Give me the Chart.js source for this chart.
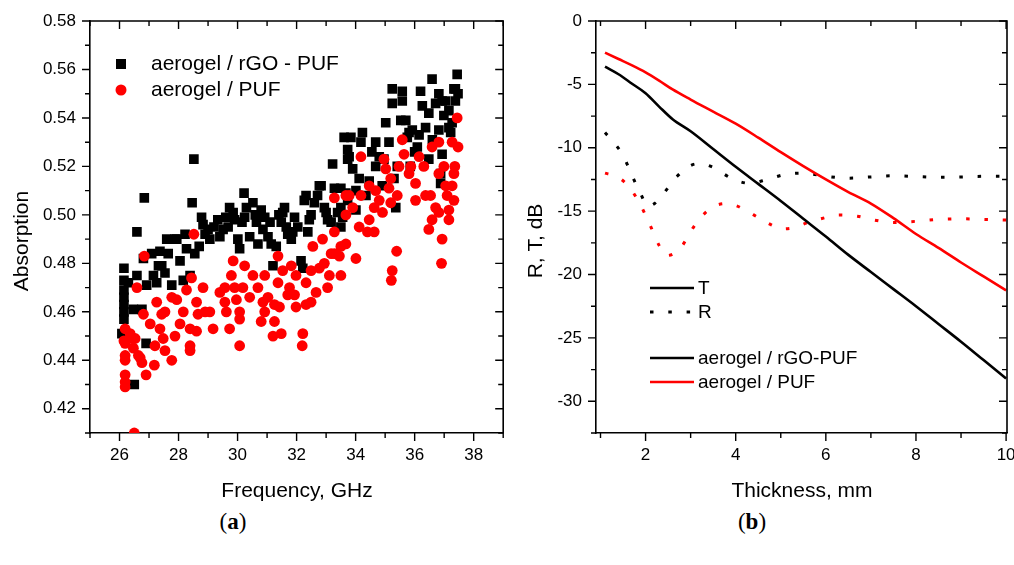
<!DOCTYPE html>
<html>
<head>
<meta charset="utf-8">
<script src="https://cdn.jsdelivr.net/npm/chart.js@4.4.0/dist/chart.umd.min.js"></script>
<style>
  html, body { margin: 0; padding: 0; background: #fff; }
  #wrap { position: relative; width: 1014px; height: 565px; overflow: hidden; }
  canvas { position: absolute; top: 0; }
  #chartA { left: 0; }
  #chartB { left: 510px; }
  .cap { position: absolute; top: 509px; width: 60px; text-align: center; line-height: 26px;
         font-family: "Liberation Serif", "DejaVu Serif", serif; font-size: 23px; color: #000; }
</style>
</head>
<body>
<div id="wrap">
  <canvas id="chartA" width="510" height="505"></canvas>
  <canvas id="chartB" width="504" height="505"></canvas>
  <div class="cap" style="left:203px">(<b>a</b>)</div>
  <div class="cap" style="left:722px">(<b>b</b>)</div>
</div>
<script>
// ---- panel (a): absorption vs frequency ----
const freqRgo = [26.08, 26.15, 26.15, 26.15, 26.15, 26.15, 26.15, 26.15, 26.30, 26.47, 26.50, 26.59, 26.59, 26.76, 26.81,
  26.84, 26.90, 26.92, 27.09, 27.15, 27.26, 27.32, 27.37, 27.43, 27.54, 27.60, 27.65, 27.77, 27.88, 27.94,
  28.05, 28.16, 28.22, 28.27, 28.39, 28.46, 28.52, 28.55, 28.70, 28.78, 28.83, 28.90, 29.00, 29.06, 29.20,
  29.33, 29.40, 29.51, 29.60, 29.68, 29.73, 29.85, 29.90, 30.01, 30.07, 30.15, 30.22, 30.24, 30.30, 30.41,
  30.52, 30.60, 30.64, 30.69, 30.80, 30.86, 30.92, 31.03, 31.10, 31.14, 31.20, 31.31, 31.40, 31.48, 31.53,
  31.59, 31.65, 31.70, 31.82, 31.87, 31.93, 32.04, 32.15, 32.21, 32.26, 32.32, 32.38, 32.43, 32.49, 32.60,
  32.71, 32.77, 32.83, 32.94, 33.00, 33.05, 33.17, 33.22, 33.28, 33.39, 33.50, 33.50, 33.50, 33.56, 33.61,
  33.67, 33.73, 33.73, 33.73, 33.78, 33.84, 33.90, 34.01, 34.01, 34.12, 34.18, 34.23, 34.35, 34.46, 34.55,
  34.68, 34.68, 34.80, 34.90, 34.96, 35.02, 35.13, 35.24, 35.24, 35.30, 35.36, 35.41, 35.53, 35.58, 35.58,
  35.70, 35.75, 35.81, 35.85, 35.92, 36.00, 36.09, 36.15, 36.20, 36.26, 36.37, 36.48, 36.48, 36.59, 36.60,
  36.71, 36.82, 36.82, 36.88, 36.88, 36.93, 36.93, 36.99, 37.05, 37.16, 37.16, 37.22, 37.27, 37.33, 37.38,
  37.38, 37.44, 37.47];
const absRgo = [0.451, 0.478, 0.473, 0.469, 0.466, 0.463, 0.460, 0.457, 0.472, 0.461, 0.430, 0.475, 0.493, 0.461, 0.482,
  0.507, 0.447, 0.471, 0.484, 0.475, 0.472, 0.479, 0.485, 0.479, 0.476, 0.490, 0.484, 0.471, 0.490, 0.490,
  0.481, 0.473, 0.492, 0.486, 0.475, 0.505, 0.523, 0.484, 0.487, 0.499, 0.496, 0.492, 0.494, 0.490, 0.495,
  0.498, 0.491, 0.494, 0.499, 0.495, 0.503, 0.501, 0.498, 0.490, 0.486, 0.497, 0.509, 0.499, 0.503, 0.491,
  0.505, 0.500, 0.497, 0.488, 0.502, 0.494, 0.499, 0.491, 0.497, 0.488, 0.479, 0.487, 0.500, 0.497, 0.501,
  0.503, 0.495, 0.492, 0.490, 0.493, 0.499, 0.495, 0.481, 0.478, 0.506, 0.508, 0.493, 0.498, 0.500, 0.505,
  0.508, 0.512, 0.512, 0.503, 0.501, 0.498, 0.497, 0.521, 0.511, 0.501, 0.511, 0.503, 0.495, 0.499, 0.532,
  0.509, 0.527, 0.523, 0.506, 0.524, 0.532, 0.519, 0.510, 0.502, 0.515, 0.530, 0.534, 0.508, 0.514, 0.526,
  0.530, 0.520, 0.524, 0.512, 0.523, 0.538, 0.530, 0.552, 0.546, 0.515, 0.503, 0.520, 0.539, 0.551, 0.547,
  0.539, 0.532, 0.534, 0.520, 0.535, 0.526, 0.528, 0.533, 0.551, 0.545, 0.536, 0.542, 0.523, 0.556, 0.531,
  0.546, 0.550, 0.535, 0.517, 0.513, 0.547, 0.525, 0.541, 0.547, 0.536, 0.543, 0.534, 0.538, 0.552, 0.552,
  0.547, 0.558, 0.550];
const freqPuf = [26.15, 26.19, 26.19, 26.19, 26.19, 26.19, 26.19, 26.19, 26.36, 26.42, 26.47, 26.50, 26.53, 26.59, 26.64,
  26.70, 26.76, 26.81, 26.84, 26.90, 27.04, 27.18, 27.20, 27.26, 27.37, 27.43, 27.48, 27.54, 27.54, 27.77,
  27.77, 27.88, 27.94, 28.05, 28.16, 28.27, 28.39, 28.39, 28.39, 28.44, 28.52, 28.61, 28.61, 28.66, 28.83,
  28.90, 29.06, 29.17, 29.40, 29.57, 29.57, 29.62, 29.73, 29.79, 29.85, 29.90, 29.96, 30.07, 30.07, 30.07,
  30.18, 30.24, 30.41, 30.52, 30.69, 30.80, 30.86, 30.92, 30.92, 31.03, 31.20, 31.25, 31.25, 31.37, 31.37,
  31.42, 31.48, 31.53, 31.70, 31.76, 31.82, 31.93, 31.98, 31.98, 32.19, 32.21, 32.32, 32.32, 32.49, 32.49,
  32.55, 32.66, 32.77, 32.88, 32.94, 33.05, 33.11, 33.17, 33.28, 33.28, 33.28, 33.45, 33.50, 33.50, 33.67,
  33.67, 33.67, 33.78, 33.90, 34.01, 34.12, 34.18, 34.18, 34.40, 34.46, 34.46, 34.63, 34.63, 34.68, 34.80,
  34.91, 34.96, 35.02, 35.13, 35.19, 35.19, 35.21, 35.24, 35.39, 35.41, 35.47, 35.58, 35.64, 35.81, 35.87,
  36.03, 36.03, 36.15, 36.31, 36.37, 36.48, 36.54, 36.59, 36.59, 36.71, 36.82, 36.82, 36.82, 36.91, 36.93,
  36.99, 37.05, 37.10, 37.16, 37.16, 37.27, 37.27, 37.33, 37.33, 37.36, 37.44, 37.47];
const absPuf = [0.448, 0.453, 0.447, 0.442, 0.440, 0.434, 0.431, 0.429, 0.451, 0.449, 0.445, 0.410, 0.449, 0.470, 0.442,
  0.441, 0.439, 0.459, 0.483, 0.434, 0.455, 0.438, 0.446, 0.464, 0.453, 0.459, 0.449, 0.460, 0.444, 0.466,
  0.440, 0.450, 0.465, 0.455, 0.460, 0.469, 0.453, 0.446, 0.444, 0.474, 0.492, 0.464, 0.452, 0.459, 0.470,
  0.460, 0.460, 0.453, 0.468, 0.470, 0.464, 0.460, 0.453, 0.475, 0.481, 0.470, 0.465, 0.460, 0.457, 0.446,
  0.470, 0.479, 0.466, 0.475, 0.470, 0.456, 0.464, 0.475, 0.460, 0.466, 0.450, 0.463, 0.456, 0.483, 0.472,
  0.462, 0.451, 0.477, 0.467, 0.470, 0.479, 0.467, 0.475, 0.462, 0.446, 0.451, 0.472, 0.463, 0.477, 0.464,
  0.487, 0.468, 0.478, 0.490, 0.480, 0.470, 0.475, 0.484, 0.507, 0.493, 0.484, 0.483, 0.487, 0.475, 0.508,
  0.500, 0.488, 0.508, 0.503, 0.482, 0.495, 0.524, 0.508, 0.493, 0.512, 0.498, 0.503, 0.493, 0.510, 0.506,
  0.501, 0.523, 0.519, 0.511, 0.515, 0.505, 0.473, 0.477, 0.485, 0.508, 0.520, 0.531, 0.525, 0.517, 0.520,
  0.513, 0.506, 0.524, 0.520, 0.508, 0.494, 0.508, 0.528, 0.498, 0.503, 0.530, 0.517, 0.501, 0.480, 0.490,
  0.520, 0.512, 0.508, 0.502, 0.498, 0.512, 0.530, 0.506, 0.517, 0.520, 0.540, 0.528];
const freqTicks = [26, 28, 30, 32, 34, 36, 38];
const absTicks = [0.42, 0.44, 0.46, 0.48, 0.50, 0.52, 0.54, 0.56, 0.58];

// ---- panel (b): R and T vs thickness ----
const thickT = [1.1, 1.4, 1.7, 2.0, 2.3, 2.6, 3.0, 3.5, 4.0, 4.5, 5.0, 5.5, 6.0, 6.5, 7.0, 7.5, 8.0, 8.5, 9.0, 9.5, 10.0];
const tRgo = [-3.6, -4.2, -4.95, -5.7, -6.75, -7.75, -8.7, -10.1, -11.5, -12.85, -14.2, -15.6, -17.0, -18.45, -19.8, -21.15, -22.5, -23.9, -25.3, -26.75, -28.2];
const tPuf = [-2.5, -3.0, -3.5, -4.05, -4.7, -5.4, -6.2, -7.15, -8.1, -9.2, -10.35, -11.45, -12.5, -13.5, -14.4, -15.55, -16.8, -17.9, -19.05, -20.15, -21.25];
const thickRrgo = [1.1, 1.3, 1.5, 1.7, 1.9, 2.05, 2.2, 2.4, 2.7, 3.0, 3.2, 3.5, 3.9, 4.3, 4.7, 5.1, 5.5, 6.0, 6.5, 7.0, 7.5, 8.0, 8.5, 9.0, 9.5, 10.0];
const rRgo = [-8.8, -9.6, -10.6, -12.2, -13.7, -14.6, -14.4, -13.6, -12.25, -11.4, -11.25, -11.55, -12.4, -12.8, -12.5, -12.1, -12.0, -12.25, -12.4, -12.3, -12.2, -12.27, -12.33, -12.3, -12.25, -12.25];
const thickRpuf = [1.1, 1.3, 1.5, 1.7, 1.9, 2.1, 2.3, 2.45, 2.6, 2.8, 3.0, 3.2, 3.4, 3.6, 3.8, 4.0, 4.2, 4.5, 4.8, 5.0, 5.3, 5.6, 6.0, 6.3, 6.7, 7.0, 7.5, 8.0, 8.5, 9.0, 9.5, 10.0];
const rPuf = [-12.0, -12.2, -12.6, -13.4, -14.6, -16.1, -17.7, -18.5, -18.4, -17.8, -16.6, -15.6, -14.9, -14.5, -14.4, -14.55, -14.9, -15.5, -16.1, -16.4, -16.3, -15.9, -15.5, -15.3, -15.4, -15.65, -15.9, -15.8, -15.65, -15.6, -15.65, -15.7];
const thickTicks = [2, 4, 6, 8, 10];
const dbTicks = [-30, -25, -20, -15, -10, -5, 0];

const FONT = '"Liberation Sans", Arial, sans-serif';
const xy = (xs, ys) => xs.map((v, i) => ({x: v, y: ys[i]}));
const setTicks = vals => scale => { scale.ticks = vals.map(v => ({value: v})); };

// origin-style box: ticks out on left/bottom, in on top/right
const originFrame = {
  id: 'originFrame',
  afterDraw(chart, args, o) {
    const {ctx, chartArea: {left, top, right, bottom}, scales: {x, y}} = chart;
    const isMajor = (v, m) => Math.abs(v / m - Math.round(v / m)) < 1e-6;
    ctx.save();
    ctx.strokeStyle = '#000';
    ctx.lineWidth = 1.6;
    ctx.beginPath();
    ctx.moveTo(left, top); ctx.lineTo(right, top); ctx.lineTo(right, bottom);
    ctx.stroke();
    ctx.lineWidth = 1.4;
    ctx.beginPath();
    let first = Math.ceil(x.min / o.xStep - 1e-6);
    for (let i = first; i * o.xStep <= x.max + 1e-6; i++) {
      const v = i * o.xStep, px = x.getPixelForValue(v);
      const l = isMajor(v, o.xMajor) ? 8 : 5;
      ctx.moveTo(px, bottom); ctx.lineTo(px, bottom + l);
      ctx.moveTo(px, top); ctx.lineTo(px, top + l);
    }
    first = Math.ceil(y.min / o.yStep - 1e-6);
    for (let i = first; i * o.yStep <= y.max + 1e-6; i++) {
      const v = i * o.yStep, py = y.getPixelForValue(v);
      const l = isMajor(v, o.yMajor) ? 8 : 5;
      ctx.moveTo(left, py); ctx.lineTo(left - l, py);
      ctx.moveTo(right, py); ctx.lineTo(right - l, py);
    }
    ctx.stroke();
    ctx.restore();
  }
};

function axisScales(xMin, xMax, xVals, xFmt, yMin, yMax, yVals, yFmt, yWidth) {
  const common = {
    type: 'linear',
    grid: {display: false, drawTicks: false},
    border: {display: true, color: '#000', width: 1.6}
  };
  return {
    x: Object.assign({}, common, {
      position: 'bottom', min: xMin, max: xMax,
      afterBuildTicks: setTicks(xVals),
      afterFit: s => { s.height = 72; s.paddingLeft = 0; s.paddingRight = 0; },
      ticks: {autoSkip: false, maxRotation: 0, padding: 12, color: '#000',
              font: {family: FONT, size: 17}, callback: xFmt}
    }),
    y: Object.assign({}, common, {
      position: 'left', min: yMin, max: yMax,
      afterBuildTicks: setTicks(yVals),
      afterFit: s => { s.width = yWidth; s.paddingTop = 0; s.paddingBottom = 0; },
      ticks: {autoSkip: false, padding: 14, color: '#000',
              font: {family: FONT, size: 17}, callback: yFmt}
    })
  };
}

// ---------- chart (a) ----------
const textsA = {
  id: 'textsA',
  afterDraw(chart) {
    const {ctx} = chart;
    ctx.save();
    ctx.fillStyle = '#000';
    ctx.font = '21px ' + FONT;
    ctx.textAlign = 'center';
    ctx.textBaseline = 'alphabetic';
    ctx.fillText('Frequency, GHz', 297, 497);
    ctx.translate(28, 241);
    ctx.rotate(-Math.PI / 2);
    ctx.fillText('Absorption', 0, 0);
    ctx.restore();

    // legend
    const ds = chart.data.datasets;
    ctx.save();
    ctx.font = '21px ' + FONT;
    ctx.textBaseline = 'middle';
    ctx.fillStyle = '#000';
    ctx.fillRect(116, 59, 10, 10);
    ctx.fillText(ds[1].label, 151, 64);
    ctx.fillStyle = '#ff0000';
    ctx.beginPath(); ctx.arc(121, 90, 5.5, 0, Math.PI * 2); ctx.fill();
    ctx.fillStyle = '#000';
    ctx.fillText(ds[0].label, 151, 90);
    ctx.restore();
  }
};

new Chart(document.getElementById('chartA'), {
  type: 'scatter',
  data: {
    datasets: [
      {label: 'aerogel / PUF', data: xy(freqPuf, absPuf), order: 1,
       pointStyle: 'circle', pointRadius: 5.4, pointBorderWidth: 0,
       backgroundColor: '#ff0000', borderColor: '#ff0000'},
      {label: 'aerogel / rGO - PUF', data: xy(freqRgo, absRgo), order: 2,
       pointStyle: 'rect', pointRadius: 6.8, pointBorderWidth: 0,
       backgroundColor: '#000', borderColor: '#000'}
    ]
  },
  options: {
    responsive: false, animation: false,
    layout: {padding: {top: 21, right: 6, left: 0, bottom: 0}},
    plugins: {legend: {display: false}, tooltip: {enabled: false},
              originFrame: {xStep: 1, xMajor: 2, yStep: 0.01, yMajor: 0.02}},
    scales: axisScales(25, 39, freqTicks, v => String(v), 0.41, 0.58, absTicks, v => v.toFixed(2), 90)
  },
  plugins: [originFrame, textsA]
});

// ---------- chart (b) ----------
const DOT = [3.5, 14.8];
const textsB = {
  id: 'textsB',
  afterDraw(chart) {
    const {ctx} = chart;
    ctx.save();
    ctx.fillStyle = '#000';
    ctx.font = '21px ' + FONT;
    ctx.textAlign = 'center';
    ctx.textBaseline = 'alphabetic';
    ctx.fillText('Thickness, mm', 292, 497);
    ctx.translate(32, 241);
    ctx.rotate(-Math.PI / 2);
    ctx.fillText('R, T, dB', 0, 0);
    ctx.restore();

    const ds = chart.data.datasets;
    const rows = [
      {y: 288, color: '#000', dash: [], text: 'T'},
      {y: 312, color: '#000', dash: DOT, text: 'R'},
      {y: 358, color: ds[0].borderColor, dash: [], text: ds[0].label},
      {y: 382, color: ds[1].borderColor, dash: [], text: ds[1].label}
    ];
    ctx.save();
    ctx.font = '19px ' + FONT;
    ctx.textBaseline = 'middle';
    rows.forEach(r => {
      ctx.strokeStyle = r.color;
      ctx.lineWidth = r.dash.length ? 3 : 2.6;
      ctx.setLineDash(r.dash);
      ctx.beginPath(); ctx.moveTo(140, r.y); ctx.lineTo(184, r.y); ctx.stroke();
      ctx.fillStyle = '#000';
      ctx.fillText(r.text, 188, r.y + 1);
    });
    ctx.restore();
  }
};

const lineDs = (label, data, color, dashed) => ({
  label, data, showLine: true, pointRadius: 0, borderColor: color, backgroundColor: color,
  borderWidth: dashed ? 3 : 2.6, borderDash: dashed ? DOT : [],
  cubicInterpolationMode: 'monotone', fill: false
});

new Chart(document.getElementById('chartB'), {
  type: 'scatter',
  data: {
    datasets: [
      lineDs('aerogel / rGO-PUF', xy(thickT, tRgo), '#000', false),
      lineDs('aerogel / PUF', xy(thickT, tPuf), '#ff0000', false),
      lineDs('R rGO-PUF', xy(thickRrgo, rRgo), '#000', true),
      lineDs('R PUF', xy(thickRpuf, rPuf), '#ff0000', true)
    ]
  },
  options: {
    responsive: false, animation: false,
    layout: {padding: {top: 21, right: 7, left: 0, bottom: 0}},
    plugins: {legend: {display: false}, tooltip: {enabled: false},
              originFrame: {xStep: 1, xMajor: 2, yStep: 2.5, yMajor: 5}},
    scales: axisScales(0.9, 10.02, thickTicks, v => String(v), -32.5, 0, dbTicks, v => String(v), 86)
  },
  plugins: [originFrame, textsB]
});
</script>
</body>
</html>
